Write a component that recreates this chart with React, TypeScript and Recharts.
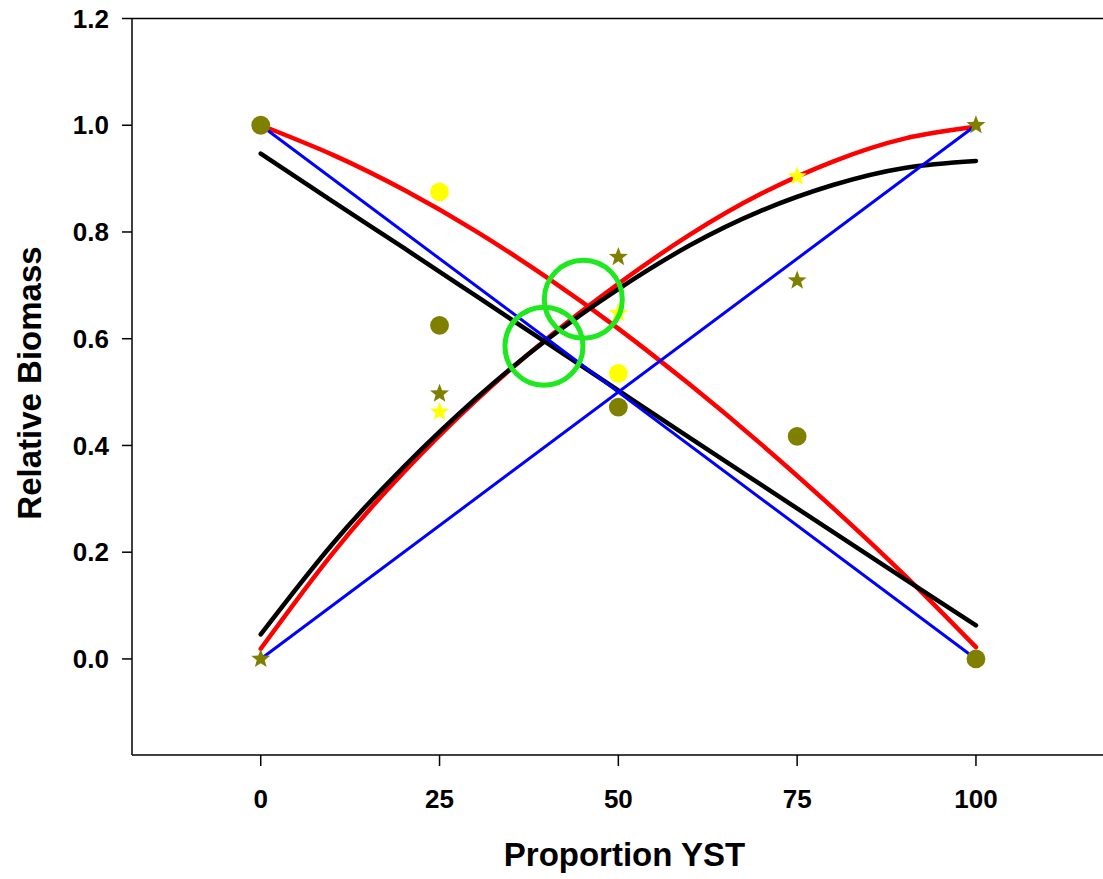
import React from 'react';
import { ComposedChart, Line, XAxis, YAxis, ReferenceLine } from 'recharts';

// ---- data ----
const xSamples = [0, 10, 20, 30, 40, 50, 60, 70, 80, 90, 100];
const redDecreasing = [1.0, 0.945, 0.879, 0.802, 0.715, 0.619, 0.514, 0.402, 0.283, 0.157, 0.022];
const redIncreasing = [0.019, 0.197, 0.35, 0.483, 0.6, 0.703, 0.795, 0.872, 0.932, 0.975, 0.997];
const blackDecreasing = [0.947, 0.858, 0.77, 0.681, 0.592, 0.503, 0.414, 0.326, 0.238, 0.15, 0.063];
const blackIncreasing = [0.046, 0.215, 0.36, 0.487, 0.598, 0.693, 0.775, 0.84, 0.888, 0.92, 0.933];

const blueX = [0, 100];
const blueDecreasing = [1, 0];
const blueIncreasing = [0, 1];

const pointX = [0, 25, 50, 75, 100];
const oliveCircleY = [1.0, 0.625, 0.472, 0.417, 0.0];
const oliveStarY = [0.0, 0.497, 0.753, 0.709, 1.0];
const yellowCircleX = [25, 50];
const yellowCircleY = [0.875, 0.535];
const yellowStarX = [25, 50, 75];
const yellowStarY = [0.463, 0.648, 0.904];

const ringX = [39.6, 45.1];
const ringY = [0.586, 0.674];

const xTicks = [0, 25, 50, 75, 100];
const yTicks = [0, 0.2, 0.4, 0.6, 0.8, 1.0, 1.2];

const zip = (xs: number[], ys: number[]) => xs.map((x, i) => ({ x, y: ys[i] }));

const redDecData = zip(xSamples, redDecreasing);
const redIncData = zip(xSamples, redIncreasing);
const blackDecData = zip(xSamples, blackDecreasing);
const blackIncData = zip(xSamples, blackIncreasing);
const blueDecData = zip(blueX, blueDecreasing);
const blueIncData = zip(blueX, blueIncreasing);
const oliveCircleData = zip(pointX, oliveCircleY);
const oliveStarData = zip(pointX, oliveStarY);
const yellowCircleData = zip(yellowCircleX, yellowCircleY);
const yellowStarData = zip(yellowStarX, yellowStarY);
const ringData = zip(ringX, ringY);

const FONT = '"Liberation Sans", Arial, Helvetica, sans-serif';
const OLIVE = '#808000';
const YELLOW = '#ffff00';
const GREEN = '#1ee81e';

const circleDot = (fill: string, r: number) => (props: any) => {
  const { cx, cy, index } = props;
  if (cx == null || cy == null) return <g key={`c${index}`} />;
  return <circle key={`c${index}`} cx={cx} cy={cy} r={r} fill={fill} stroke="none" />;
};

const starDot = (fill: string, R: number) => (props: any) => {
  const { cx, cy, index } = props;
  if (cx == null || cy == null) return <g key={`s${index}`} />;
  const r = R * 0.42;
  const pts: string[] = [];
  for (let i = 0; i < 10; i++) {
    const rad = i % 2 === 0 ? R : r;
    const a = -Math.PI / 2 + (i * Math.PI) / 5;
    pts.push(`${cx + rad * Math.cos(a)},${cy + rad * Math.sin(a)}`);
  }
  return <polygon key={`s${index}`} points={pts.join(' ')} fill={fill} stroke="none" />;
};

const ringDot = (props: any) => {
  const { cx, cy, index } = props;
  if (cx == null || cy == null) return <g key={`r${index}`} />;
  return <circle key={`r${index}`} cx={cx} cy={cy} r={39} fill="none" stroke={GREEN} strokeWidth={5} />;
};

const tickStyle = { fontSize: 26, fontWeight: 'bold', fill: '#000', fontFamily: FONT };

export default function App() {
  return (
    <div style={{ position: 'absolute', left: 0, top: 0, width: 1103, height: 879, overflow: 'hidden', background: '#fff' }}>
      <ComposedChart width={1119} height={879} margin={{ top: 18.5, right: 0, bottom: 0, left: 0 }}>
        <XAxis
          type="number"
          dataKey="x"
          domain={[-18, 120]}
          ticks={xTicks}
          allowDataOverflow
          height={124}
          tickSize={11}
          tickMargin={24}
          stroke="#000"
          strokeWidth={1.5}
          tick={tickStyle}
          tickLine={{ stroke: '#000', strokeWidth: 1.5 }}
          label={{
            content: () => (
              <text x={624.5} y={866} textAnchor="middle" fontSize={33} fontWeight="bold" fontFamily={FONT} fill="#000">
                Proportion YST
              </text>
            ),
          }}
        />
        <YAxis
          type="number"
          domain={[-0.18, 1.2]}
          ticks={yTicks}
          allowDataOverflow
          width={132}
          tickSize={10}
          tickMargin={13}
          stroke="#000"
          strokeWidth={1.5}
          tick={tickStyle}
          tickLine={{ stroke: '#000', strokeWidth: 1.5 }}
          tickFormatter={(v: number) => v.toFixed(1)}
          label={{
            content: () => (
              <text
                x={0}
                y={0}
                transform="translate(40.5,383) rotate(-90)"
                textAnchor="middle"
                fontSize={33}
                fontWeight="bold"
                fontFamily={FONT}
                fill="#000"
              >
                Relative Biomass
              </text>
            ),
          }}
        />
        <ReferenceLine y={1.2} stroke="#000" strokeWidth={1.5} />

        <Line data={yellowCircleData} dataKey="y" stroke="none" dot={circleDot(YELLOW, 9.4)} activeDot={false} isAnimationActive={false} legendType="none" />
        <Line data={oliveCircleData} dataKey="y" stroke="none" dot={circleDot(OLIVE, 9.4)} activeDot={false} isAnimationActive={false} legendType="none" />
        <Line data={yellowStarData} dataKey="y" stroke="none" dot={starDot(YELLOW, 10)} activeDot={false} isAnimationActive={false} legendType="none" />
        <Line data={oliveStarData} dataKey="y" stroke="none" dot={starDot(OLIVE, 10)} activeDot={false} isAnimationActive={false} legendType="none" />

        <Line data={redDecData} dataKey="y" type="natural" stroke="#ff0000" strokeWidth={4.5} strokeLinecap="round" dot={false} activeDot={false} isAnimationActive={false} />
        <Line data={redIncData} dataKey="y" type="natural" stroke="#ff0000" strokeWidth={4.5} strokeLinecap="round" dot={false} activeDot={false} isAnimationActive={false} />
        <Line data={blackDecData} dataKey="y" type="natural" stroke="#000000" strokeWidth={4.5} strokeLinecap="round" dot={false} activeDot={false} isAnimationActive={false} />
        <Line data={blackIncData} dataKey="y" type="natural" stroke="#000000" strokeWidth={4.5} strokeLinecap="round" dot={false} activeDot={false} isAnimationActive={false} />
        <Line data={blueDecData} dataKey="y" type="linear" stroke="#0000ff" strokeWidth={3} dot={false} activeDot={false} isAnimationActive={false} />
        <Line data={blueIncData} dataKey="y" type="linear" stroke="#0000ff" strokeWidth={3} dot={false} activeDot={false} isAnimationActive={false} />

        <Line data={ringData} dataKey="y" stroke="none" dot={ringDot} activeDot={false} isAnimationActive={false} legendType="none" />
      </ComposedChart>
    </div>
  );
}
